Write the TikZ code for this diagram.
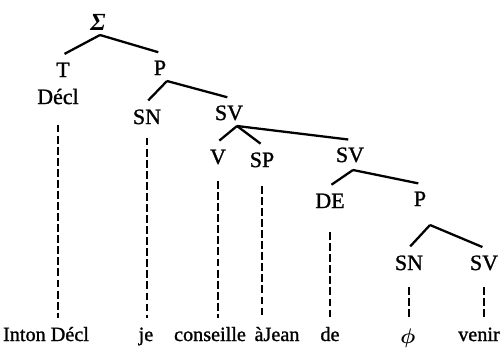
\documentclass[tikz,border=0pt]{standalone}
\usepackage{amsmath}
\usepackage{fontspec}
\setmainfont{Liberation Serif}
\newfontfamily\printface{Liberation Serif}[AutoFakeBold=1.2]
\usepackage{tikz}

\begin{document}
\begin{tikzpicture}[x=0.02cm, y=-0.02cm,
  label cat/.style={font=\printface\bfseries\fontsize{12.5}{14}\selectfont, text height=8pt, text depth=0pt, inner xsep=1pt, inner ysep=4.5pt},
  word/.style={font=\printface\bfseries\fontsize{11.5}{13}\selectfont, anchor=base, text height=7pt, text depth=2pt, inner ysep=4pt},
  branch/.style={line width=1.3pt, shorten >=1pt},
  trace/.style={line width=1.4pt, dash pattern=on 4.5pt off 1.8pt, shorten <=3pt, shorten >=2pt}]
  \useasboundingbox (0,0) rectangle (500,355);
  % categories
  \node[label cat] (sigma) at (98,23) {\normalfont\bfseries\itshape\fontsize{14}{16}\selectfont Σ};
  \node[label cat] (t) at (63,70) {T};
  \node[label cat] (decl) at (58,97) {Décl};
  \node[label cat] (p) at (160,68) {P};
  \node[label cat] (sn) at (147,117) {SN};
  \node[label cat] (sv) at (229,113) {SV};
  \node[label cat] (v) at (218,157) {V};
  \node[label cat] (sp) at (262,160) {SP};
  \node[label cat] (svb) at (350,155) {SV};
  \node[label cat] (de) at (330,201) {DE};
  \node[label cat] (pb) at (420,199) {P};
  \node[label cat] (snb) at (409,263) {SN};
  \node[label cat] (svc) at (484,263) {SV};
  % terminal string
  \node[word] (inton) at (46,341) {Inton Décl};
  \node[word] (je) at (146,341) {je};
  \node[word] (conseille) at (210,341) {conseille};
  \node[word] (ajean) at (277,341) {àJean};
  \node[word] (de-w) at (330,341) {de};
  \node[word] (phi) at (408,343) {$\boldsymbol{\phi}$};
  \node[word] (venir) at (479,341) {venir};
  % forks
  \coordinate (sigma-fork) at (100,35);
  \coordinate (p-fork) at (167,81);
  \coordinate (sv-fork) at (237,126);
  \coordinate (svb-fork) at (353,170);
  \coordinate (pb-fork) at (430,225);
  \draw[branch] (sigma-fork) -- (t.north);
  \draw[branch] (sigma-fork) -- (p.north);
  \draw[branch] (p-fork) -- (sn.north);
  \draw[branch] (p-fork) -- (sv.north);
  \draw[branch] (sv-fork) -- (v.north);
  \draw[branch] (sv-fork) -- (sp.north);
  \draw[branch] (sv-fork) -- (svb.north);
  \draw[branch] (svb-fork) -- (de.north);
  \draw[branch] (svb-fork) -- (pb.north);
  \draw[branch] (pb-fork) -- (snb.north);
  \draw[branch] (pb-fork) -- (svc.north);
  % derivation traces
  \draw[trace] ([yshift=-4pt]decl.south) -- (decl.south |- inton.north);
  \draw[trace] (sn.south) -- (sn.south |- je.north);
  \draw[trace] ([yshift=-2pt]v.south) -- (v.south |- conseille.north);
  \draw[trace] ([yshift=-3pt]sp.south) -- (sp.south |- ajean.north);
  \draw[trace] ([yshift=-6pt]de.south) -- (de.south |- de-w.north);
  \draw[trace] ([yshift=-2pt]snb.south) -- (snb.south |- phi.north);
  \draw[trace, line width=0.8pt] ([yshift=-2pt]svc.south) -- (svc.south |- venir.north);
\end{tikzpicture}
\end{document}
